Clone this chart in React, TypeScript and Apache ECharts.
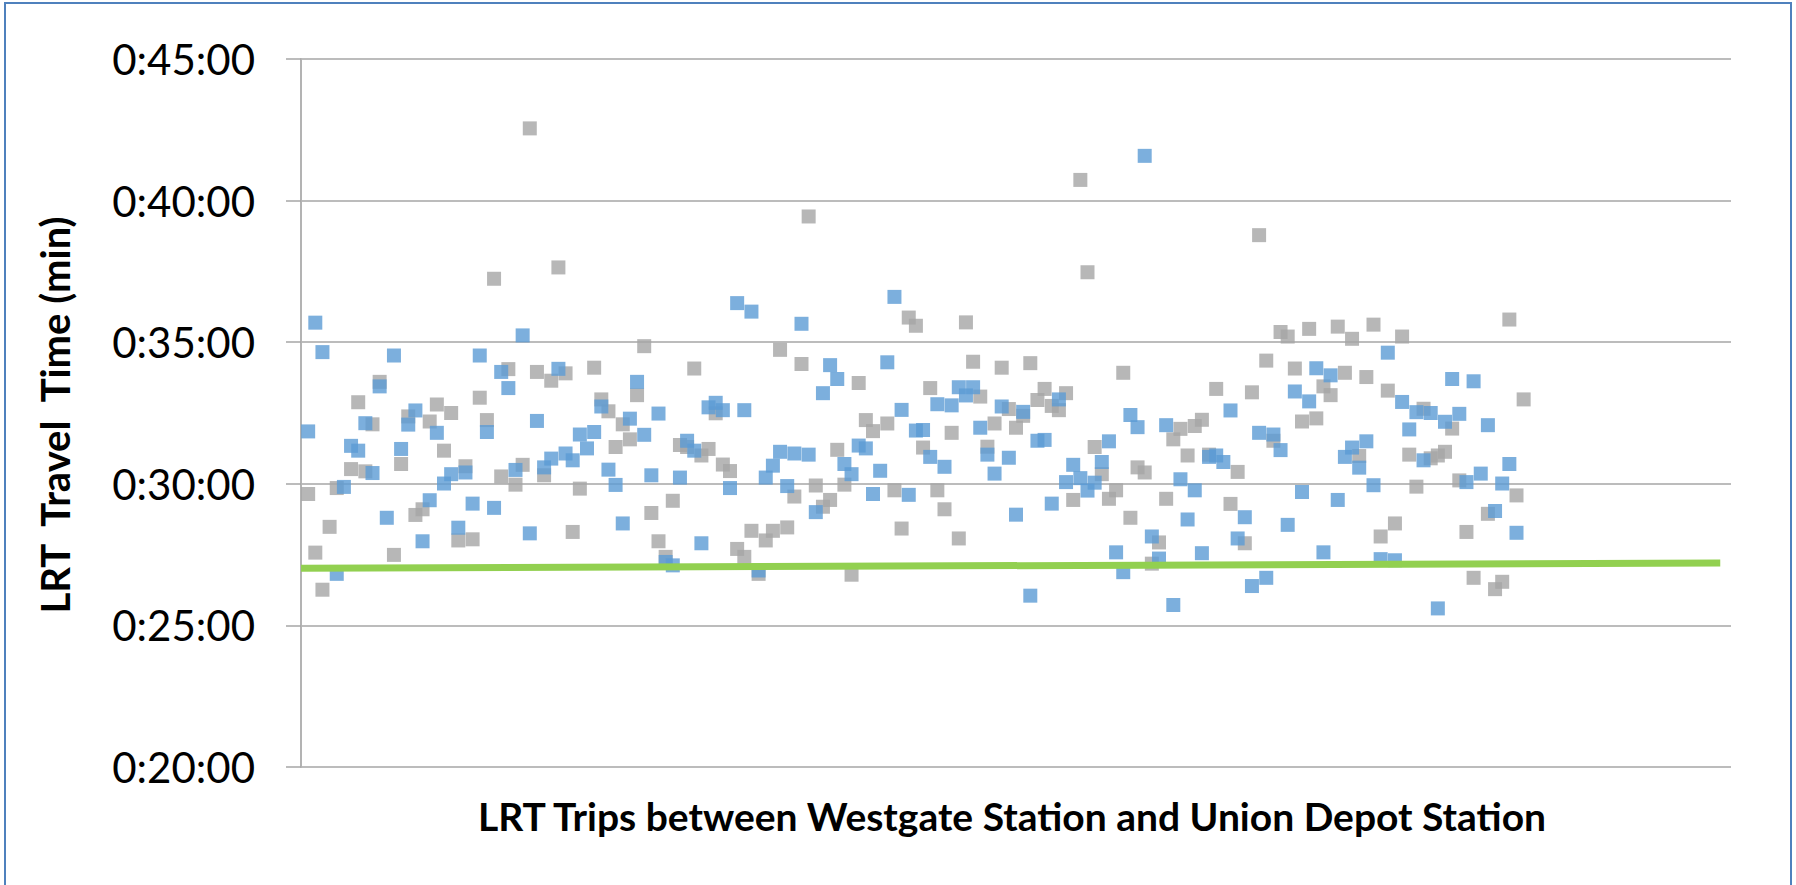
import React, { useEffect, useRef } from "react";
import * as echarts from "echarts";

// Travel time in minutes for each LRT trip (index = trip number - 1), null = not visible
const blueMinutes: (number | null)[] = [
  31.85, 35.69, 34.65, null, 26.82, 29.89, 31.34, 31.17, 32.14, 30.38,
  33.44, 28.8, 34.53, 31.23, 32.09, 32.59, 27.97, 29.42, 31.8, 30.01,
  30.34, 28.45, 30.4, 29.3, 34.53, 31.83, 29.15, 33.95, 33.38, 30.49,
  35.24, 28.25, 32.22, 30.58, 30.89, 34.06, 31.07, 30.83, 31.74, 31.25,
  31.83, 32.73, 30.5, 29.96, 28.6, 32.3, 33.6, 31.73, 30.3, 32.48,
  27.24, 27.12, 30.22, 31.52, 31.17, 27.9, 32.7, 32.86, 32.6, 29.85,
  36.38, 32.6, 36.08, 26.94, 30.22, 30.64, 31.13, 29.92, 31.07, 35.65,
  31.03, 29.0, 33.2, 34.19, 33.7, 30.7, 30.34, 31.35, 31.25, 29.64,
  30.46, 34.29, 36.6, 32.61, 29.61, 31.88, 31.9, 30.95, 32.81, 30.6,
  32.77, 33.41, 33.12, 33.41, 31.98, 31.03, 30.36, 32.73, 30.92, 28.91,
  32.54, 26.05, 31.52, 31.55, 29.3, 32.98, 30.06, 30.67, 30.2, 29.76,
  30.04, 30.77, 31.5, 27.58, 26.88, 32.43, 32.0, 41.58, 28.14, 27.36,
  32.07, 25.72, 30.16, 28.74, 29.77, 27.55, 30.95, 31.0, 30.77, 32.59,
  28.07, 28.82, 26.39, 31.8, 26.68, 31.74, 31.19, 28.55, 33.26, 29.71,
  32.91, 34.08, 27.58, 33.83, 29.43, 30.95, 31.28, 30.57, 31.5, 29.95,
  27.34, 34.63, 27.3, 32.89, 31.92, 32.53, 30.83, 32.5, 25.6, 32.19,
  33.7, 32.47, 30.06, 33.62, 30.36, 32.07, 29.04, 30.01, 30.7, 28.27,
  null,
];

const grayMinutes: (number | null)[] = [
  29.64, 27.57, 26.26, 28.48, 29.85, null, 30.52, 32.88, 30.44, 32.1,
  33.6, null, 27.49, 30.7, 32.38, 28.9, 29.1, 32.2, 32.8, 31.17,
  32.5, 28.0, 30.62, 28.04, 33.04, 32.25, 37.24, 30.26, 34.05, 29.97,
  30.67, 42.55, 33.95, 30.3, 33.64, 37.64, 33.9, 28.3, 29.83, null,
  34.1, 32.98, 32.56, 31.3, 32.1, 31.57, 33.13, 34.86, 28.97, 27.97,
  27.42, 29.4, 31.37, 31.3, 34.07, 31.0, 31.23, 32.49, 30.68, 30.45,
  27.7, 27.42, 28.34, 26.82, 28.0, 28.34, 34.73, 28.46, 29.55, 34.23,
  39.44, 29.94, 29.19, 29.43, 31.2, 29.97, 26.79, 33.56, 32.25, 31.86,
  null, 32.13, 29.77, 28.42, 35.87, 35.58, 31.28, 33.38, 29.77, 29.1,
  31.8, 28.07, 35.7, 34.31, 33.08, 31.31, 32.13, 34.1, 32.64, 31.98,
  32.4, 34.26, 32.96, 33.35, 32.75, 32.6, 33.2, 29.43, 40.73, 37.47,
  31.3, 30.34, 29.47, 29.77, 33.92, 28.8, 30.58, 30.4, 27.18, 27.93,
  29.47, 31.57, 31.94, 31.0, 32.04, 32.26, 31.03, 33.35, null, 29.29,
  30.42, 27.9, 33.23, 38.78, 34.35, 31.52, 35.36, 35.2, 34.07, 32.2,
  35.47, 32.31, 33.44, 33.13, 35.55, 33.92, 35.12, 30.98, 33.77, 35.62,
  28.14, 33.29, 28.6, 35.2, 31.03, 29.9, 32.65, 30.9, 31.0, 31.13,
  31.95, 30.12, 28.3, 26.68, null, 28.94, 26.28, 26.54, 35.8, 29.59,
  32.98,
];

// Reference trend line (trip, minutes)
const trendTrips = [0, 198.5];
const trendMinutes = [27.02, 27.2];

const yTicks = [20, 25, 30, 35, 40, 45];
const xMax = 200;

const yTitle = "LRT  Travel  Time (min)";
const xTitle = "LRT Trips between Westgate Station and Union Depot Station";

function toPairs(vals: (number | null)[]) {
  const out: [number, number][] = [];
  vals.forEach((v, i) => {
    if (v !== null) out.push([i + 1, v]);
  });
  return out;
}

function fmt(v: number) {
  const m = Math.floor(v);
  const s = Math.round((v - m) * 60);
  return `0:${String(m).padStart(2, "0")}:${String(s).padStart(2, "0")}`;
}

export default function App() {
  const ref = useRef<HTMLDivElement>(null);
  useEffect(() => {
    document.body.style.margin = "0";
    if (!ref.current) return;
    const chart = echarts.init(ref.current, undefined, { renderer: "svg" });
    chart.setOption({
      animation: false,
      backgroundColor: "#ffffff",
      grid: { left: 301, right: 65, top: 59, bottom: 118, containLabel: false },
      xAxis: {
        type: "value",
        min: 0,
        max: xMax,
        axisLabel: { show: false },
        axisTick: { show: false },
        splitLine: { show: false },
        axisLine: { show: false },
      },
      yAxis: {
        type: "value",
        min: yTicks[0],
        max: yTicks[yTicks.length - 1],
        interval: 5,
        axisLine: { show: true, lineStyle: { color: "#b3b3b3", width: 2 } },
        axisTick: { show: true, inside: false, length: 15, lineStyle: { color: "#a6a6a6", width: 1.5 } },
        splitLine: { show: true, lineStyle: { color: "#a6a6a6", width: 1.5 } },
        axisLabel: {
          formatter: (v: number) => fmt(v),
          fontFamily: "Lato",
          fontSize: 42,
          color: "#000000",
          margin: 46,
        },
      },
      graphic: [
        {
          type: "rect",
          shape: { x: 5, y: 3, width: 1786, height: 900 },
          style: { fill: "none", stroke: "#4f81bd", lineWidth: 2 },
          silent: true,
        },
        {
          type: "text",
          x: 55,
          y: 415,
          rotation: Math.PI / 2,
          style: {
            text: yTitle,
            fontFamily: "Lato",
            fontWeight: "bold",
            fontSize: 40,
            fill: "#000000",
            align: "center",
            verticalAlign: "middle",
          },
        },
        {
          type: "text",
          x: 1012,
          y: 816,
          style: {
            text: xTitle,
            fontFamily: "Lato",
            fontWeight: "bold",
            fontSize: 39,
            fill: "#000000",
            align: "center",
            verticalAlign: "middle",
          },
        },
      ],
      series: [
        {
          name: "Gray trips",
          type: "scatter",
          symbol: "rect",
          symbolSize: 14,
          itemStyle: { color: "#a5a5a5" },
          data: toPairs(grayMinutes),
          z: 2,
        },
        {
          name: "Blue trips",
          type: "scatter",
          symbol: "rect",
          symbolSize: 14,
          itemStyle: { color: "#5b9bd5" },
          data: toPairs(blueMinutes),
          z: 3,
        },
        {
          name: "Trend",
          type: "line",
          symbol: "none",
          lineStyle: { color: "#92d050", width: 7 },
          data: trendTrips.map((t, i) => [t, trendMinutes[i]]),
          z: 4,
        },
      ],
    });
    return () => chart.dispose();
  }, []);
  return <div ref={ref} style={{ width: 1796, height: 885 }} />;
}
